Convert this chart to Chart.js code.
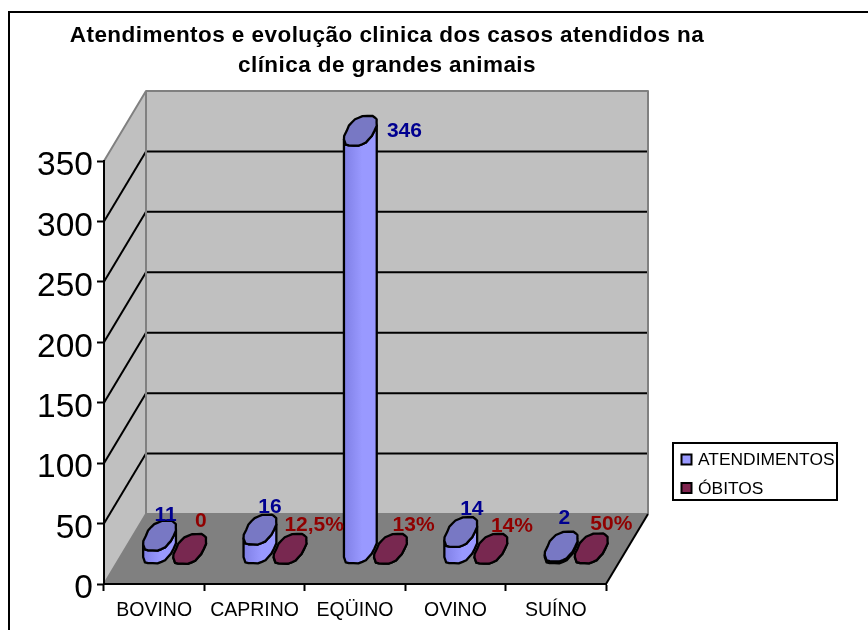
<!DOCTYPE html>
<html>
<head>
<meta charset="utf-8">
<title>Atendimentos</title>
<script src="https://cdn.jsdelivr.net/npm/chart.js@4"></script>
<style>
  html, body { margin: 0; padding: 0; background: #fff; }
  canvas { display: block; }
</style>
</head>
<body>
<canvas id="grafico" width="868" height="630"></canvas>
<script>
// data
const especies = ['BOVINO', 'CAPRINO', 'EQÜINO', 'OVINO', 'SUÍNO'];
const atendimentos = [11, 16, 346, 14, 2];
const obitos = [0, 0.125, 0.13, 0.14, 0.5];
const rotulosAtendimentos = ['11', '16', '346', '14', '2'];
const rotulosObitos = ['0', '12,5%', '13%', '14%', '50%'];
const tituloLinhas = ['Atendimentos e evolução clinica dos casos atendidos na', 'clínica de grandes animais'];
const yTicks = [0, 50, 100, 150, 200, 250, 300, 350];

const FONTE = '"Liberation Sans", Arial, sans-serif';

// depth of the fake 3d box
const fundoX = 42, fundoY = -70;
// bars stand in the middle of the depth
const meioX = 20.5, meioY = -35;
// sheared blob for the cylinders
const ux = 14, vx = 7, vy = -15, curva = 0.8;
const lumps = [1, 1.02, 0.98, 1.02, 1, 1.03, 0.99, 1.01, 0.98, 1.02, 1, 1.03, 0.98, 1.02, 1, 0.98, 1.03, 1, 0.98, 1.02, 1, 1.03, 0.98, 1.01];
const nPontos = lumps.length;

// manual label offsets, the original labels were moved by hand
const nudgeAtend = [[6, -21], [10, -22], [44, 0], [11, -23], [3, -28]];
const nudgeObitos = [[11, -28], [24, -24], [23, -24], [21, -23], [20, -24]];

function anel(cx, cy) {
  const pts = [];
  for (let i = 0; i < nPontos; i++) {
    const t = i * 2 * Math.PI / nPontos;
    const c = Math.sign(Math.cos(t)) * Math.pow(Math.abs(Math.cos(t)), curva);
    const s = Math.sign(Math.sin(t)) * Math.pow(Math.abs(Math.sin(t)), curva);
    pts.push([cx + lumps[i] * (ux * c + vx * s), cy + lumps[i] * vy * s]);
  }
  return pts;
}

function cilindro(ctx, el, cores) {
  const cx = el.x + meioX;
  const topo = anel(cx, el.y + meioY), base = anel(cx, el.base + meioY);

  // silhouette points, right and left
  let iR = 0, iL = 0;
  topo.forEach(function (p, i) {
    if (p[0] > topo[iR][0]) iR = i;
    if (p[0] < topo[iL][0]) iL = i;
  });
  const arco = [];
  for (let i = iR; ; i = (i - 1 + nPontos) % nPontos) {
    arco.push(i);
    if (i == iL) break;
  }

  ctx.save();
  ctx.lineWidth = 2.3;
  ctx.lineJoin = 'round';
  ctx.strokeStyle = '#000';

  // body
  const grad = ctx.createLinearGradient(cx - 16, 0, cx + 16, 0);
  grad.addColorStop(0, cores.escuro);
  grad.addColorStop(0.55, cores.claro);
  grad.addColorStop(1, cores.claro);
  ctx.beginPath();
  arco.forEach(function (i, n) {
    if (n == 0) ctx.moveTo(base[i][0], base[i][1]); else ctx.lineTo(base[i][0], base[i][1]);
  });
  arco.slice().reverse().forEach(function (i) {
    ctx.lineTo(topo[i][0], topo[i][1]);
  });
  ctx.closePath();
  ctx.fillStyle = grad;
  ctx.fill();
  ctx.stroke();

  // top
  ctx.beginPath();
  topo.forEach(function (p, n) {
    if (n == 0) ctx.moveTo(p[0], p[1]); else ctx.lineTo(p[0], p[1]);
  });
  ctx.closePath();
  ctx.fillStyle = cores.topo;
  ctx.fill();
  ctx.stroke();
  ctx.restore();
}

function linha(ctx, x1, y1, x2, y2, cor, larg) {
  ctx.strokeStyle = cor;
  ctx.lineWidth = larg;
  ctx.beginPath();
  ctx.moveTo(x1, y1);
  ctx.lineTo(x2, y2);
  ctx.stroke();
}

const caixa3d = {
  id: 'caixa3d',
  beforeDraw(chart) {
    const ctx = chart.ctx;
    const a = chart.chartArea;
    const y = chart.scales.y;

    // the big tick numbers sit a little below their ticks in the original
    y.getLabelItems().forEach(function (item) {
      if (!item.movido) {
        item.options.translation[1] += 5;
        item.movido = true;
      }
    });

    ctx.save();

    // outer frame, right and bottom sides fall off the picture
    ctx.strokeStyle = '#000';
    ctx.lineWidth = 2;
    ctx.strokeRect(9, 12, 880, 640);

    // back wall and side wall
    ctx.fillStyle = '#c0c0c0';
    ctx.fillRect(a.left + fundoX, a.top + fundoY, a.right - a.left, a.bottom - a.top);
    ctx.beginPath();
    ctx.moveTo(a.left, a.top);
    ctx.lineTo(a.left + fundoX, a.top + fundoY);
    ctx.lineTo(a.left + fundoX, a.bottom + fundoY);
    ctx.lineTo(a.left, a.bottom);
    ctx.closePath();
    ctx.fill();

    // floor
    ctx.fillStyle = '#808080';
    ctx.beginPath();
    ctx.moveTo(a.left, a.bottom);
    ctx.lineTo(a.right, a.bottom);
    ctx.lineTo(a.right + fundoX, a.bottom + fundoY);
    ctx.lineTo(a.left + fundoX, a.bottom + fundoY);
    ctx.closePath();
    ctx.fill();

    // gridlines along side and back
    yTicks.forEach(function (v) {
      if (v == 0 || v == 350) return;
      const py = y.getPixelForValue(v);
      linha(ctx, a.left, py, a.left + fundoX, py + fundoY, '#000', 2);
      linha(ctx, a.left + fundoX, py + fundoY, a.right + fundoX, py + fundoY, '#000', 2);
    });

    // grey edges
    ctx.lineJoin = 'round';
    ctx.strokeStyle = '#808080';
    ctx.lineWidth = 2;
    ctx.beginPath();
    ctx.moveTo(a.left, a.top);
    ctx.lineTo(a.left + fundoX, a.top + fundoY);
    ctx.lineTo(a.right + fundoX, a.top + fundoY);
    ctx.lineTo(a.right + fundoX, a.bottom + fundoY);
    ctx.moveTo(a.left + fundoX, a.top + fundoY);
    ctx.lineTo(a.left + fundoX, a.bottom + fundoY);
    ctx.lineTo(a.left, a.bottom);
    ctx.moveTo(a.left + fundoX, a.bottom + fundoY);
    ctx.lineTo(a.right + fundoX, a.bottom + fundoY);
    ctx.stroke();
    linha(ctx, a.right, a.bottom, a.right + fundoX, a.bottom + fundoY, '#000', 2);
    ctx.restore();
  },
  // the flat bars are replaced by cylinders
  beforeDatasetDraw() {
    return false;
  },
  afterDatasetsDraw(chart) {
    const ctx = chart.ctx;
    const corA = { escuro: '#8080e6', claro: '#9999ff', topo: '#7878c4' };
    const corB = { escuro: '#732048', claro: '#80244f', topo: '#782850' };
    const barrasA = chart.getDatasetMeta(0).data;
    const barrasB = chart.getDatasetMeta(1).data;
    barrasA.forEach(function (el, i) {
      cilindro(ctx, el, corA);
      cilindro(ctx, barrasB[i], corB);
    });
  },
  afterDraw(chart) {
    const ctx = chart.ctx;
    ctx.save();

    // value labels
    ctx.textAlign = 'center';
    ctx.textBaseline = 'middle';
    ctx.font = 'bold 21px ' + FONTE;
    chart.getDatasetMeta(0).data.forEach(function (el, i) {
      ctx.fillStyle = '#000090';
      ctx.fillText(rotulosAtendimentos[i], el.x + meioX + nudgeAtend[i][0], el.y + meioY + nudgeAtend[i][1]);
    });
    chart.getDatasetMeta(1).data.forEach(function (el, i) {
      ctx.fillStyle = '#900000';
      ctx.fillText(rotulosObitos[i], el.x + meioX + nudgeObitos[i][0], el.y + meioY + nudgeObitos[i][1]);
    });

    // title
    ctx.fillStyle = '#000';
    ctx.font = 'bold 22.5px ' + FONTE;
    ctx.letterSpacing = '0.45px';
    ctx.fillText(tituloLinhas[0], 387, 36);
    ctx.fillText(tituloLinhas[1], 387, 66);
    ctx.letterSpacing = '0px';

    // legend
    ctx.fillStyle = '#fff';
    ctx.fillRect(673, 443, 164, 57);
    ctx.strokeStyle = '#000';
    ctx.lineWidth = 2;
    ctx.strokeRect(673, 443, 164, 57);
    ctx.textAlign = 'left';
    ctx.font = '17.4px ' + FONTE;
    chart.data.datasets.forEach(function (d, i) {
      const ly = 459.5 + i * 28.5;
      ctx.fillStyle = d.backgroundColor;
      ctx.fillRect(681.5, ly - 5, 10, 10);
      ctx.strokeRect(681.5, ly - 5, 10, 10);
      ctx.fillStyle = '#000';
      ctx.fillText(d.label, 698, ly + 1);
    });
    ctx.restore();
  }
};

new Chart(document.getElementById('grafico'), {
  type: 'bar',
  data: {
    labels: especies,
    datasets: [
      { label: 'ATENDIMENTOS', data: atendimentos, backgroundColor: '#9999ff' },
      { label: 'ÓBITOS', data: obitos, backgroundColor: '#80244f' }
    ]
  },
  plugins: [caixa3d],
  options: {
    responsive: false,
    animation: false,
    devicePixelRatio: 1,
    layout: { padding: { left: 0, right: 262, top: 161, bottom: 0 } },
    datasets: { bar: { barPercentage: 1, categoryPercentage: 0.6 } },
    plugins: {
      legend: { display: false },
      title: { display: false },
      tooltip: { enabled: false }
    },
    scales: {
      x: {
        afterFit(scale) { scale.height = 46; },
        grid: { drawOnChartArea: false, tickColor: '#000', tickWidth: 2, tickLength: 7, offset: true },
        border: { color: '#000', width: 2 },
        ticks: { color: '#000', font: { family: FONTE, size: 19.5 }, maxRotation: 0, padding: 8 }
      },
      y: {
        min: 0,
        max: 350,
        afterFit(scale) { scale.width = 104; },
        afterBuildTicks(scale) { scale.ticks = yTicks.map(function (v) { return { value: v }; }); },
        grid: { drawOnChartArea: false, tickColor: '#000', tickWidth: 2, tickLength: 7 },
        border: { color: '#000', width: 2 },
        ticks: { color: '#000', font: { family: FONTE, size: 33.5 }, padding: 4 }
      }
    }
  }
});
</script>
</body>
</html>
